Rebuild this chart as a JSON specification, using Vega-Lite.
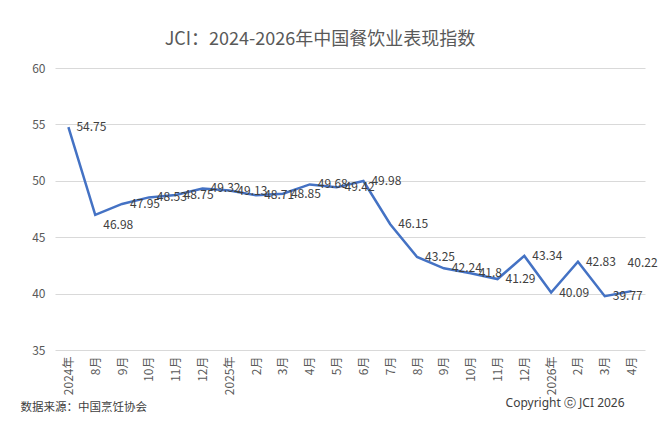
{
  "$schema": "https://vega.github.io/schema/vega-lite/v6.json",
  "width": 590,
  "height": 282,
  "autosize": {"type": "none"},
  "padding": {"left": 55, "top": 68, "right": 15, "bottom": 76},
  "background": "white",
  "title": {
    "text": "JCI：2024-2026年中国餐饮业表现指数",
    "font": "Noto Sans CJK SC",
    "fontSize": 18,
    "fontWeight": "normal",
    "color": "#595959",
    "anchor": "middle",
    "dx": -30,
    "offset": 13
  },
  "config": {
    "font": "Noto Sans CJK SC",
    "view": {"stroke": null}
  },
  "data": {
    "values": [
      {"期": "2024-07", "指数": 54.75},
      {"期": "2024-08", "指数": 46.98},
      {"期": "2024-09", "指数": 47.95},
      {"期": "2024-10", "指数": 48.53},
      {"期": "2024-11", "指数": 48.75},
      {"期": "2024-12", "指数": 49.32},
      {"期": "2025-01", "指数": 49.13},
      {"期": "2025-02", "指数": 48.71},
      {"期": "2025-03", "指数": 48.85},
      {"期": "2025-04", "指数": 49.68},
      {"期": "2025-05", "指数": 49.42},
      {"期": "2025-06", "指数": 49.98},
      {"期": "2025-07", "指数": 46.15},
      {"期": "2025-08", "指数": 43.25},
      {"期": "2025-09", "指数": 42.24},
      {"期": "2025-10", "指数": 41.8},
      {"期": "2025-11", "指数": 41.29},
      {"期": "2025-12", "指数": 43.34},
      {"期": "2026-01", "指数": 40.09},
      {"期": "2026-02", "指数": 42.83},
      {"期": "2026-03", "指数": 39.77},
      {"期": "2026-04", "指数": 40.22}
    ]
  },
  "encoding": {
    "x": {
      "field": "期",
      "type": "ordinal",
      "sort": null,
      "scale": {"type": "point", "padding": 0.5},
      "axis": {
        "title": "数据来源：中国烹饪协会",
        "titleFont": "Noto Sans CJK SC",
        "titleFontSize": 11.5,
        "titleFontWeight": "normal",
        "titleColor": "#404040",
        "titleAnchor": "start",
        "titleAlign": "left",
        "titleBaseline": "middle",
        "titleX": -35,
        "titleY": 57,
        "labelAngle": -90,
        "labelAlign": "right",
        "labelBaseline": "middle",
        "labelPadding": 6,
        "labelFontSize": 12,
        "labelColor": "#595959",
        "labelExpr": "substring(datum.value, 5) == '01' || datum.value == '2024-07' ? substring(datum.value, 0, 4) + '年' : toNumber(substring(datum.value, 5)) + '月'",
        "ticks": false,
        "domain": false,
        "grid": false
      }
    },
    "y": {
      "field": "指数",
      "type": "quantitative",
      "scale": {"domain": [35, 60], "nice": false, "zero": false},
      "axis": {
        "title": null,
        "values": [35, 40, 45, 50, 55, 60],
        "labelFontSize": 12,
        "labelColor": "#595959",
        "labelPadding": 10,
        "ticks": false,
        "domain": false,
        "grid": true,
        "gridColor": "#d9d9d9",
        "gridWidth": 1
      }
    }
  },
  "layer": [
    {
      "mark": {"type": "line", "color": "#4472C4", "strokeWidth": 2.5}
    },
    {
      "transform": [{"filter": "datum['指数'] != 46.98 && datum['指数'] != 40.22"}],
      "mark": {"type": "text", "align": "left", "baseline": "middle", "dx": 8, "fontSize": 12, "color": "#404040"},
      "encoding": {"text": {"field": "指数", "type": "quantitative"}}
    },
    {
      "transform": [{"filter": "datum['指数'] == 46.98"}],
      "mark": {"type": "text", "align": "left", "baseline": "middle", "dx": 8, "dy": 10, "fontSize": 12, "color": "#404040"},
      "encoding": {"text": {"field": "指数", "type": "quantitative"}}
    },
    {
      "transform": [{"filter": "datum['指数'] == 40.22"}],
      "mark": {"type": "text", "align": "center", "baseline": "middle", "dx": 11, "dy": -28, "fontSize": 12, "color": "#404040"},
      "encoding": {"text": {"field": "指数", "type": "quantitative"}}
    },
    {
      "transform": [{"filter": "datum['期'] == '2026-04'"}],
      "mark": {"type": "text", "align": "right", "baseline": "middle", "dx": -7, "dy": 53, "font": "Noto Sans", "fontSize": 12, "fontWeight": "normal", "color": "#404040", "text": "Copyright ⓒ JCI 2026"},
      "encoding": {
        "y": {"datum": 35, "type": "quantitative"}
      }
    }
  ]
}
